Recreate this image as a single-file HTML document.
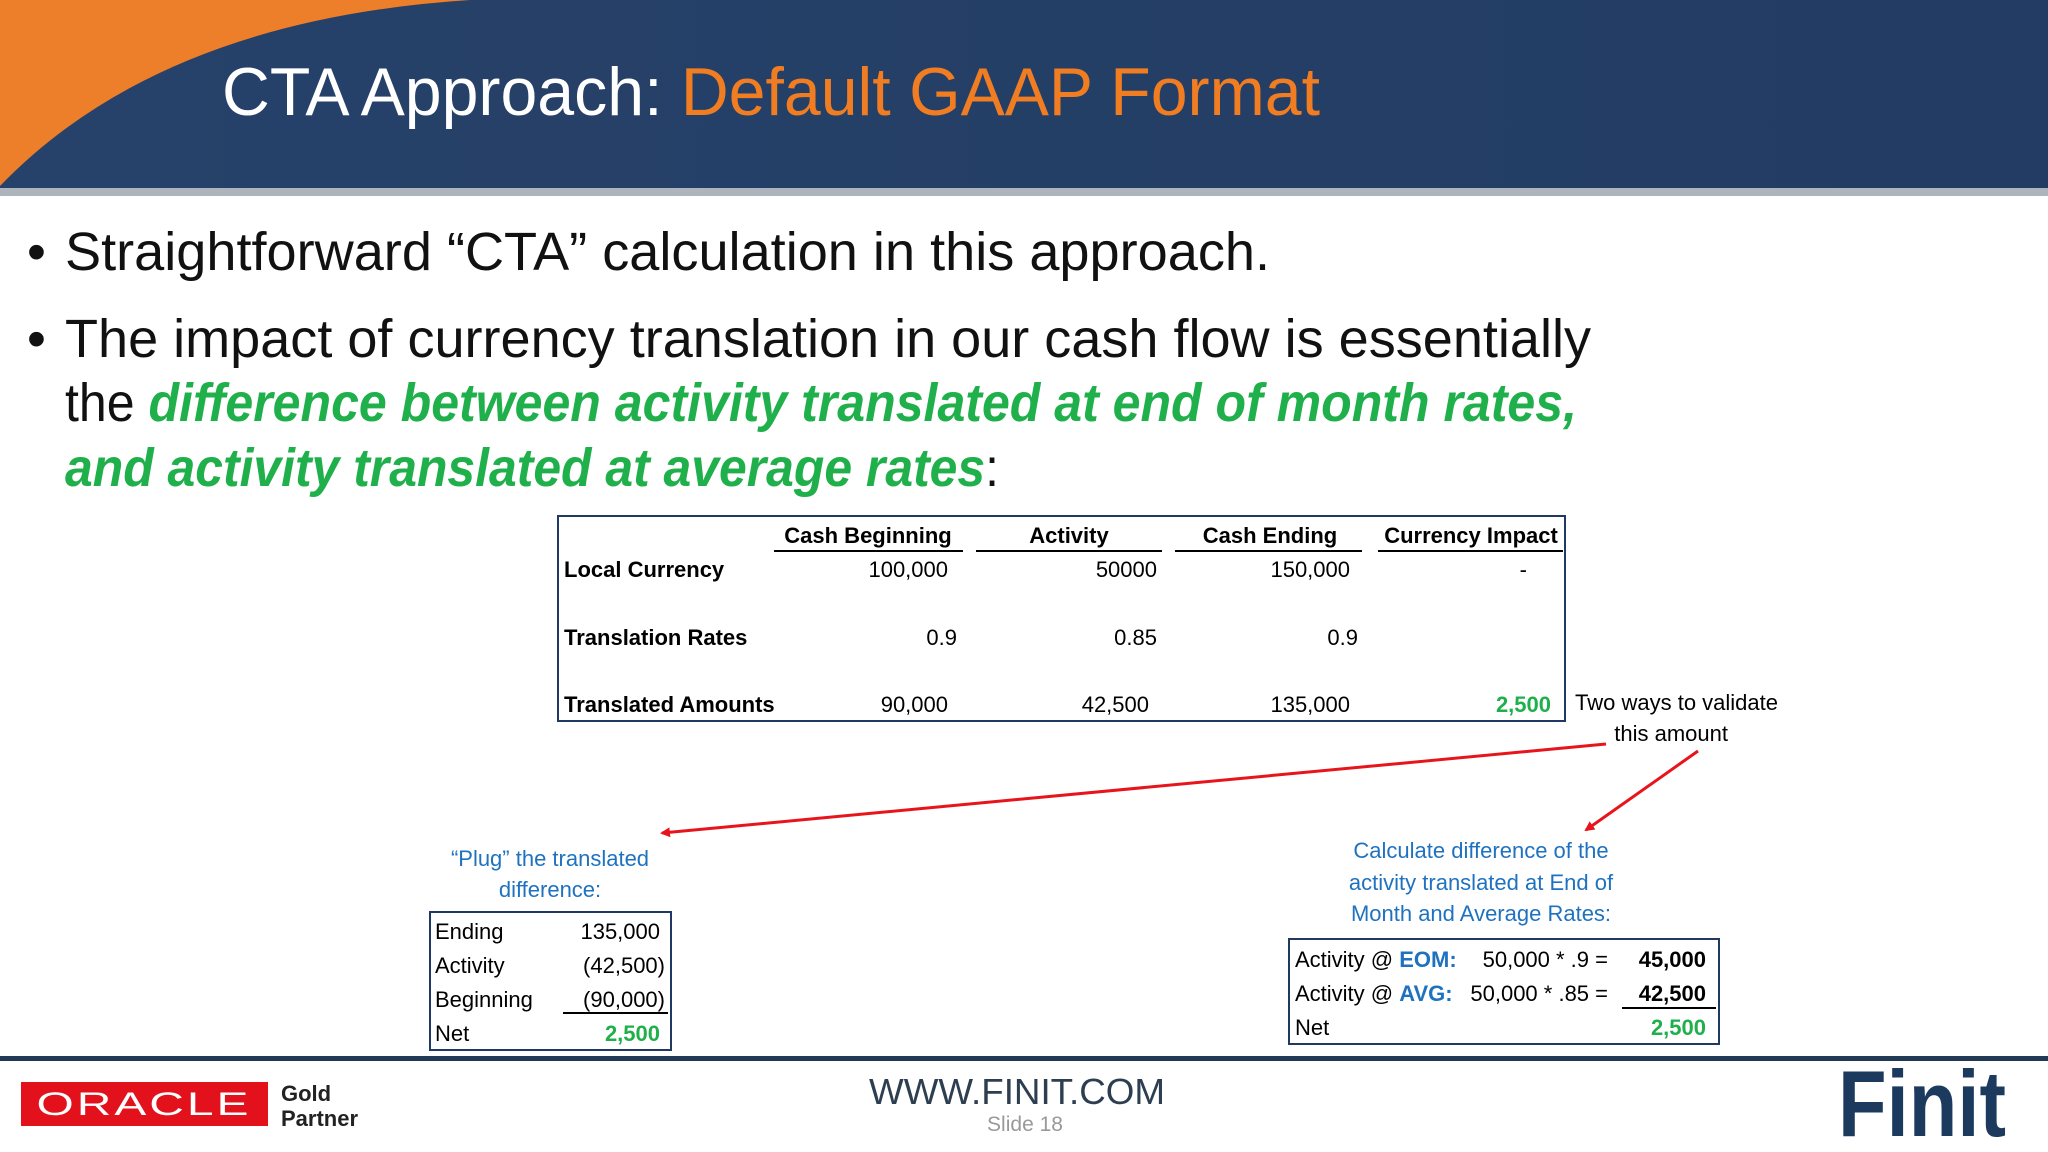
<!DOCTYPE html>
<html><head><meta charset="utf-8"><style>
html,body{margin:0;padding:0;background:#fff;width:2048px;height:1152px;overflow:hidden}
svg{display:block;font-family:"Liberation Sans",sans-serif}
</style></head><body>
<svg width="2048" height="1152" viewBox="0 0 2048 1152">
<defs>
<marker id="ah" markerWidth="10" markerHeight="10" refX="8" refY="5" orient="auto" markerUnits="userSpaceOnUse"><path d="M0,0 L10,5 L0,10 Z" fill="#e8141b"/></marker>
<linearGradient id="hdr" x1="0" y1="0" x2="1" y2="0"><stop offset="0" stop-color="#27426a"/><stop offset="1" stop-color="#223c63"/></linearGradient>
</defs>
<g>
<rect x="0" y="0" width="2048" height="190" fill="url(#hdr)"/>
<path d="M0,0 H470 Q160,20 0,186 Z" fill="#ee7f2a"/>
<rect x="0" y="188" width="2048" height="8" fill="#aeb4bb"/>
<text x="222" y="115" font-size="68" fill="#fff" textLength="1098" lengthAdjust="spacingAndGlyphs">CTA Approach: <tspan fill="#f07d22">Default GAAP Format</tspan></text>
</g>
<g fill="#111" font-size="54">
<text x="27" y="270">•</text>
<text x="65" y="270" textLength="1205" lengthAdjust="spacingAndGlyphs">Straightforward “CTA” calculation in this approach.</text>
<text x="27" y="357">•</text>
<text x="65" y="357" textLength="1526" lengthAdjust="spacingAndGlyphs">The impact of currency translation in our cash flow is essentially</text>
<text x="65" y="421" textLength="1512" lengthAdjust="spacingAndGlyphs">the <tspan fill="#20b04b" font-weight="bold" font-style="italic">difference between activity translated at end of month rates,</tspan></text>
<text x="65" y="486" textLength="934" lengthAdjust="spacingAndGlyphs"><tspan fill="#20b04b" font-weight="bold" font-style="italic">and activity translated at average rates</tspan>:</text>
</g>
<g font-size="22" fill="#000">
<rect x="558" y="516" width="1007" height="205" fill="none" stroke="#1f3864" stroke-width="2"/>
<g font-weight="bold" text-anchor="middle">
<text x="868" y="543">Cash Beginning</text>
<text x="1069" y="543">Activity</text>
<text x="1270" y="543">Cash Ending</text>
<text x="1471" y="543">Currency Impact</text>
</g>
<g stroke="#000" stroke-width="2">
<line x1="774" y1="551" x2="963" y2="551"/><line x1="976" y1="551" x2="1162" y2="551"/>
<line x1="1175" y1="551" x2="1362" y2="551"/><line x1="1378" y1="551" x2="1563" y2="551"/>
</g>
<g font-weight="bold">
<text x="564" y="577">Local Currency</text>
<text x="564" y="645">Translation Rates</text>
<text x="564" y="712">Translated Amounts</text>
</g>
<g text-anchor="end">
<text x="948" y="577">100,000</text><text x="1157" y="577">50000</text><text x="1350" y="577">150,000</text><text x="1527" y="577">-</text>
<text x="957" y="645">0.9</text><text x="1157" y="645">0.85</text><text x="1358" y="645">0.9</text>
<text x="948" y="712">90,000</text><text x="1149" y="712">42,500</text><text x="1350" y="712">135,000</text>
<text x="1551" y="712" fill="#20b04b" font-weight="bold">2,500</text>
</g>
</g>
<g font-size="22" text-anchor="end" fill="#000">
<text x="1778" y="710">Two ways to validate</text>
<text x="1728" y="741">this amount</text>
</g>
<g stroke="#e8141b" stroke-width="3" fill="none">
<line x1="1606" y1="744" x2="662" y2="833" marker-end="url(#ah)"/>
<line x1="1698" y1="751" x2="1586" y2="830" marker-end="url(#ah)"/>
</g>
<g font-size="22" fill="#1f72c0" text-anchor="middle">
<text x="550" y="866">“Plug” the translated</text>
<text x="550" y="897">difference:</text>
</g>
<g font-size="22" fill="#000">
<rect x="430" y="912" width="241" height="138" fill="none" stroke="#1f3864" stroke-width="2"/>
<text x="435" y="939">Ending</text><text x="435" y="973">Activity</text><text x="435" y="1007">Beginning</text><text x="435" y="1041">Net</text>
<g text-anchor="end">
<text x="660" y="939">135,000</text><text x="665" y="973">(42,500)</text><text x="665" y="1007">(90,000)</text>
<text x="660" y="1041" fill="#20b04b" font-weight="bold">2,500</text>
</g>
<line x1="563" y1="1013" x2="668" y2="1013" stroke="#000" stroke-width="2"/>
</g>
<g font-size="22" fill="#1f72c0" text-anchor="middle">
<text x="1481" y="858">Calculate difference of the</text>
<text x="1481" y="890">activity translated at End of</text>
<text x="1481" y="921">Month and Average Rates:</text>
</g>
<g font-size="22" fill="#000">
<rect x="1289" y="939" width="430" height="105" fill="none" stroke="#1f3864" stroke-width="2"/>
<text x="1295" y="967">Activity @ <tspan fill="#1f72c0" font-weight="bold">EOM:</tspan></text>
<text x="1295" y="1001">Activity @ <tspan fill="#1f72c0" font-weight="bold">AVG:</tspan></text>
<text x="1295" y="1035">Net</text>
<g text-anchor="end">
<text x="1608" y="967">50,000 * .9 =</text><text x="1608" y="1001">50,000 * .85 =</text>
<text x="1706" y="967" font-weight="bold">45,000</text><text x="1706" y="1001" font-weight="bold">42,500</text>
<text x="1706" y="1035" fill="#20b04b" font-weight="bold">2,500</text>
</g>
<line x1="1622" y1="1008" x2="1716" y2="1008" stroke="#000" stroke-width="2"/>
</g>
<g>
<rect x="0" y="1056" width="2048" height="5" fill="#223a55"/>
<g>
<rect x="21" y="1082" width="247" height="44" fill="#e2111b"/>
<text x="144" y="1115" font-size="32" fill="#fff" text-anchor="middle" textLength="215" lengthAdjust="spacingAndGlyphs" letter-spacing="2">ORACLE</text>
<text x="281" y="1101" font-size="22" font-weight="bold" fill="#222">Gold</text>
<text x="281" y="1126" font-size="22" font-weight="bold" fill="#222">Partner</text>
</g>
<text x="1017" y="1104" font-size="36" fill="#2c3e50" text-anchor="middle" textLength="296" lengthAdjust="spacingAndGlyphs">WWW.FINIT.COM</text>
<text x="1025" y="1131" font-size="21" fill="#999" text-anchor="middle">Slide 18</text>
<text x="1838" y="1136" font-size="94" font-weight="bold" fill="#1b3a5e" textLength="168" lengthAdjust="spacingAndGlyphs">Finit</text>
</g>
</svg>
</body></html>
